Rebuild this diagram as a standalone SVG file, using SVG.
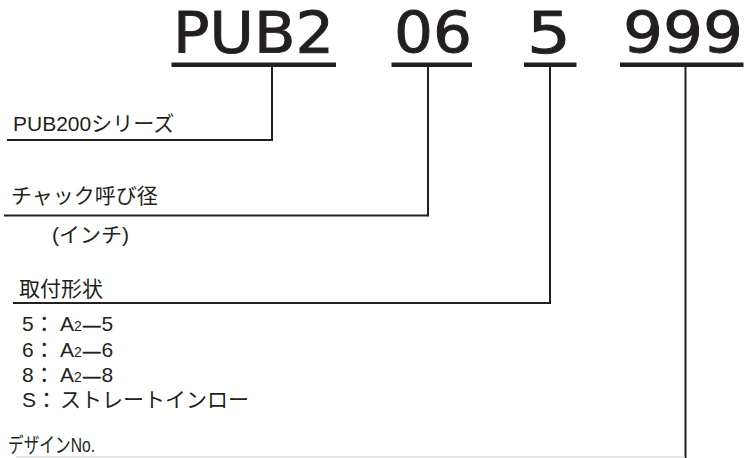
<svg xmlns="http://www.w3.org/2000/svg" width="745" height="458" viewBox="0 0 745 458">
<style>
.title{font-family:"DejaVu Sans","Liberation Sans",sans-serif;font-size:57.5px;fill:#231f20;stroke:#231f20;stroke-width:0.9}
.lbl{font-family:"Liberation Sans","Noto Sans CJK JP",sans-serif;font-size:21px;fill:#231f20}
.dash{font-family:"Liberation Sans",sans-serif;font-size:17.5px;stroke:#231f20;stroke-width:0.6}
.ul{fill:#231f20}
.ln{fill:none;stroke:#231f20;stroke-width:2}
</style>
<rect width="745" height="458" fill="#ffffff"/>
<g id="code-pub2">
<text class="title" x="173" y="53" textLength="161" lengthAdjust="spacingAndGlyphs">PUB2</text>
<rect class="ul" x="171.5" y="62.5" width="164.5" height="4.5"/>
</g>
<g id="code-06">
<text class="title" x="394" y="53" textLength="78" lengthAdjust="spacingAndGlyphs">06</text>
<rect class="ul" x="391.5" y="62.5" width="80.5" height="4.5"/>
</g>
<g id="code-5">
<text class="title" x="527" y="53" textLength="44" lengthAdjust="spacingAndGlyphs">5</text>
<rect class="ul" x="524" y="62.5" width="52.5" height="4.5"/>
</g>
<g id="code-999">
<text class="title" x="623" y="53" textLength="120" lengthAdjust="spacingAndGlyphs">999</text>
<rect class="ul" x="620" y="62.5" width="123.5" height="4.5"/>
</g>
<g id="connectors">
<polyline class="ln" points="272,66 272,140 7,140"/>
<polyline class="ln" points="428,66 428,215.5 4,215.5"/>
<polyline class="ln" points="550,66 550,303 13,303"/>
<line class="ln" x1="685.5" y1="66" x2="685.5" y2="458"/>
<line x1="16" y1="456.8" x2="685" y2="456.8" stroke="#d9d9d9" stroke-width="1.2"/>
</g>
<g id="label-series">
<text class="lbl" x="13" y="131">PUB200シリーズ</text>
</g>
<g id="label-chuck">
<text class="lbl" x="11" y="203">チャック呼び径</text>
<text class="lbl" x="52" y="242">(インチ)</text>
</g>
<g id="label-mount">
<text class="lbl" x="19" y="296">取付形状</text>
<text class="lbl" x="22" y="331">5：<tspan x="60">A</tspan><tspan font-size="14">2</tspan><tspan class="dash" x="83">—</tspan><tspan x="101.5">5</tspan></text>
<text class="lbl" x="22" y="357">6：<tspan x="60">A</tspan><tspan font-size="14">2</tspan><tspan class="dash" x="83">—</tspan><tspan x="101.5">6</tspan></text>
<text class="lbl" x="22" y="382">8：<tspan x="60">A</tspan><tspan font-size="14">2</tspan><tspan class="dash" x="83">—</tspan><tspan x="101.5">8</tspan></text>
<text class="lbl" x="22" y="407">S：<tspan x="60">ストレートインロー</tspan></text>
</g>
<g id="label-design">
<text class="lbl" x="8" y="451.5" font-size="23.5" textLength="87" lengthAdjust="spacingAndGlyphs">デザインNo.</text>
</g>
</svg>
